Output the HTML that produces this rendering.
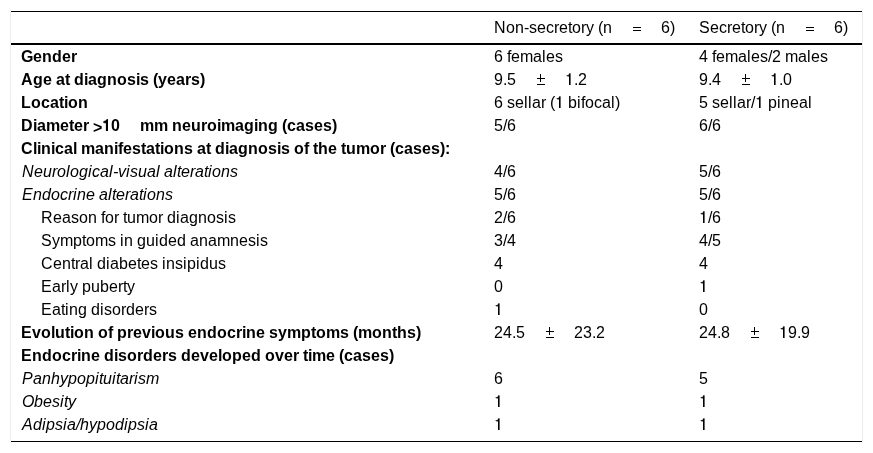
<!DOCTYPE html>
<html><head><meta charset="utf-8">
<style>
html,body{margin:0;padding:0;background:#fff;}
body{width:873px;height:453px;overflow:hidden;font-family:"Liberation Sans",sans-serif;font-size:16px;color:#000;position:relative;}
.box{position:absolute;left:0;top:0;width:873px;height:453px;will-change:transform;}
.vl{position:absolute;top:10px;width:1px;height:433px;background:#ececec;}
.wp{position:absolute;width:1px;height:1px;background:#fff;}
.hl{position:absolute;left:11px;width:851px;background:#000;}
.t{position:absolute;height:18px;line-height:18px;white-space:nowrap;}
.b{font-weight:bold;}
.i{font-style:italic;}
c{display:inline-block;overflow:visible;}
.sy{position:relative;height:18px;vertical-align:top;}
e{position:absolute;display:block;background:#000;}
e.px{left:-1px;top:1px;width:1px;height:1px;background:transparent;}
.a3{width:3px}.a4{width:4px}.a5{width:5px}.a6{width:6px}.a7{width:7px}.a8{width:8px}.a9{width:9px}.a10{width:10px}.a11{width:11px}.a12{width:12px}.a13{width:13px}.a14{width:14px}.a15{width:15px}.a16{width:16px}.a17{width:17px}.a18{width:18px}.a19{width:19px}.a20{width:20px}.a21{width:21px}.a22{width:22px}.a23{width:23px}.a24{width:24px}
</style></head><body>
<div class="box">
<div class="vl" style="left:10px"></div>
<div class="vl" style="left:862px"></div>
<div class="wp" style="left:10px;top:11px"></div><div class="wp" style="left:862px;top:11px"></div><div class="wp" style="left:10px;top:441px"></div><div class="wp" style="left:862px;top:441px"></div>
<div class="hl" style="top:11px;height:1px"></div>
<div class="hl" style="top:43px;height:2px"></div>
<div class="hl" style="top:441px;height:1px"></div>
<div class="t" style="left:494px;top:19px"><c class="a12">N</c><c class="a9">o</c><c class="a9">n</c><c class="a5">-</c><c class="a8">s</c><c class="a9">e</c><c class="a8">c</c><c class="a5">r</c><c class="a9">e</c><c class="a4">t</c><c class="a9">o</c><c class="a5">r</c><c class="a8">y</c><c class="a4">&nbsp;</c><c class="a5">(</c><c class="a9">n</c><c class="a20"></c><c class="a9 sy"><e style="left:1px;top:8px;width:8px;height:1px"></e><e style="left:1px;top:11px;width:8px;height:1px"></e></c><c class="a20"></c><c class="a9">6</c><c class="a5">)</c></div>
<div class="t" style="left:699px;top:19px"><c class="a11">S</c><c class="a9">e</c><c class="a8">c</c><c class="a5">r</c><c class="a9">e</c><c class="a4">t</c><c class="a9">o</c><c class="a5">r</c><c class="a8">y</c><c class="a4">&nbsp;</c><c class="a5">(</c><c class="a9">n</c><c class="a20"></c><c class="a9 sy"><e style="left:1px;top:8px;width:8px;height:1px"></e><e style="left:1px;top:11px;width:8px;height:1px"></e></c><c class="a20"></c><c class="a9">6</c><c class="a5">)</c></div>
<div class="t b" style="left:21px;top:48px"><c class="a12">G</c><c class="a9">e</c><c class="a10">n</c><c class="a10">d</c><c class="a9">e</c><c class="a6">r</c></div>
<div class="t" style="left:494px;top:48px"><c class="a9">6</c><c class="a4">&nbsp;</c><c class="a4">f</c><c class="a9">e</c><c class="a13">m</c><c class="a9">a</c><c class="a4">l</c><c class="a9">e</c><c class="a8">s</c></div>
<div class="t" style="left:699px;top:48px"><c class="a9">4</c><c class="a4">&nbsp;</c><c class="a4">f</c><c class="a9">e</c><c class="a13">m</c><c class="a9">a</c><c class="a4">l</c><c class="a9">e</c><c class="a8">s</c><c class="a4">/</c><c class="a9">2</c><c class="a4">&nbsp;</c><c class="a13">m</c><c class="a9">a</c><c class="a4">l</c><c class="a9">e</c><c class="a8">s</c></div>
<div class="t b" style="left:21px;top:71px"><c class="a12">A</c><c class="a10">g</c><c class="a9">e</c><c class="a4">&nbsp;</c><c class="a9">a</c><c class="a5">t</c><c class="a4">&nbsp;</c><c class="a10">d</c><c class="a4">i</c><c class="a9">a</c><c class="a10">g</c><c class="a10">n</c><c class="a10">o</c><c class="a9">s</c><c class="a4">i</c><c class="a9">s</c><c class="a4">&nbsp;</c><c class="a5">(</c><c class="a9">y</c><c class="a9">e</c><c class="a9">a</c><c class="a6">r</c><c class="a9">s</c><c class="a5">)</c></div>
<div class="t" style="left:494px;top:71px"><c class="a9">9</c><c class="a4">.</c><c class="a9">5</c><c class="a20"></c><c class="a9 sy"><e style="left:1px;top:7px;width:8px;height:1px"></e><e style="left:4px;top:3px;width:1px;height:8px"></e><e style="left:1px;top:13px;width:8px;height:1px"></e></c><c class="a20"></c><c class="a9 sy"><e class="px" style="box-shadow:5px 1px rgba(0,0,0,0.6),6px 1px rgba(0,0,0,0.4),4px 2px rgba(0,0,0,0.3),5px 2px rgba(0,0,0,1),6px 2px rgba(0,0,0,0.6),2px 3px rgba(0,0,0,0.3),3px 3px rgba(0,0,0,0.8),4px 3px rgba(0,0,0,0.9),5px 3px rgba(0,0,0,1),6px 3px rgba(0,0,0,0.6),3px 4px rgba(0,0,0,0.3),4px 4px rgba(0,0,0,0.4),5px 4px rgba(0,0,0,1),6px 4px rgba(0,0,0,0.6),5px 5px rgba(0,0,0,1),6px 5px rgba(0,0,0,0.6),5px 6px rgba(0,0,0,1),6px 6px rgba(0,0,0,0.6),5px 7px rgba(0,0,0,1),6px 7px rgba(0,0,0,0.6),5px 8px rgba(0,0,0,1),6px 8px rgba(0,0,0,0.6),5px 9px rgba(0,0,0,1),6px 9px rgba(0,0,0,0.6),5px 10px rgba(0,0,0,1),6px 10px rgba(0,0,0,0.6),5px 11px rgba(0,0,0,1),6px 11px rgba(0,0,0,0.6),5px 12px rgba(0,0,0,1),6px 12px rgba(0,0,0,0.6)"></e></c><c class="a4">.</c><c class="a9">2</c></div>
<div class="t" style="left:699px;top:71px"><c class="a9">9</c><c class="a4">.</c><c class="a9">4</c><c class="a20"></c><c class="a9 sy"><e style="left:1px;top:7px;width:8px;height:1px"></e><e style="left:4px;top:3px;width:1px;height:8px"></e><e style="left:1px;top:13px;width:8px;height:1px"></e></c><c class="a20"></c><c class="a9 sy"><e class="px" style="box-shadow:5px 1px rgba(0,0,0,0.6),6px 1px rgba(0,0,0,0.4),4px 2px rgba(0,0,0,0.3),5px 2px rgba(0,0,0,1),6px 2px rgba(0,0,0,0.6),2px 3px rgba(0,0,0,0.3),3px 3px rgba(0,0,0,0.8),4px 3px rgba(0,0,0,0.9),5px 3px rgba(0,0,0,1),6px 3px rgba(0,0,0,0.6),3px 4px rgba(0,0,0,0.3),4px 4px rgba(0,0,0,0.4),5px 4px rgba(0,0,0,1),6px 4px rgba(0,0,0,0.6),5px 5px rgba(0,0,0,1),6px 5px rgba(0,0,0,0.6),5px 6px rgba(0,0,0,1),6px 6px rgba(0,0,0,0.6),5px 7px rgba(0,0,0,1),6px 7px rgba(0,0,0,0.6),5px 8px rgba(0,0,0,1),6px 8px rgba(0,0,0,0.6),5px 9px rgba(0,0,0,1),6px 9px rgba(0,0,0,0.6),5px 10px rgba(0,0,0,1),6px 10px rgba(0,0,0,0.6),5px 11px rgba(0,0,0,1),6px 11px rgba(0,0,0,0.6),5px 12px rgba(0,0,0,1),6px 12px rgba(0,0,0,0.6)"></e></c><c class="a4">.</c><c class="a9">0</c></div>
<div class="t b" style="left:21px;top:94px"><c class="a10">L</c><c class="a10">o</c><c class="a9">c</c><c class="a9">a</c><c class="a5">t</c><c class="a4">i</c><c class="a10">o</c><c class="a10">n</c></div>
<div class="t" style="left:494px;top:94px"><c class="a9">6</c><c class="a4">&nbsp;</c><c class="a8">s</c><c class="a9">e</c><c class="a4">l</c><c class="a4">l</c><c class="a9">a</c><c class="a5">r</c><c class="a4">&nbsp;</c><c class="a5">(</c><c class="a9 sy"><e class="px" style="box-shadow:5px 1px rgba(0,0,0,0.6),6px 1px rgba(0,0,0,0.4),4px 2px rgba(0,0,0,0.3),5px 2px rgba(0,0,0,1),6px 2px rgba(0,0,0,0.6),2px 3px rgba(0,0,0,0.3),3px 3px rgba(0,0,0,0.8),4px 3px rgba(0,0,0,0.9),5px 3px rgba(0,0,0,1),6px 3px rgba(0,0,0,0.6),3px 4px rgba(0,0,0,0.3),4px 4px rgba(0,0,0,0.4),5px 4px rgba(0,0,0,1),6px 4px rgba(0,0,0,0.6),5px 5px rgba(0,0,0,1),6px 5px rgba(0,0,0,0.6),5px 6px rgba(0,0,0,1),6px 6px rgba(0,0,0,0.6),5px 7px rgba(0,0,0,1),6px 7px rgba(0,0,0,0.6),5px 8px rgba(0,0,0,1),6px 8px rgba(0,0,0,0.6),5px 9px rgba(0,0,0,1),6px 9px rgba(0,0,0,0.6),5px 10px rgba(0,0,0,1),6px 10px rgba(0,0,0,0.6),5px 11px rgba(0,0,0,1),6px 11px rgba(0,0,0,0.6),5px 12px rgba(0,0,0,1),6px 12px rgba(0,0,0,0.6)"></e></c><c class="a4">&nbsp;</c><c class="a9">b</c><c class="a4">i</c><c class="a4">f</c><c class="a9">o</c><c class="a8">c</c><c class="a9">a</c><c class="a4">l</c><c class="a5">)</c></div>
<div class="t" style="left:699px;top:94px"><c class="a9">5</c><c class="a4">&nbsp;</c><c class="a8">s</c><c class="a9">e</c><c class="a4">l</c><c class="a4">l</c><c class="a9">a</c><c class="a5">r</c><c class="a4">/</c><c class="a9 sy"><e class="px" style="box-shadow:5px 1px rgba(0,0,0,0.6),6px 1px rgba(0,0,0,0.4),4px 2px rgba(0,0,0,0.3),5px 2px rgba(0,0,0,1),6px 2px rgba(0,0,0,0.6),2px 3px rgba(0,0,0,0.3),3px 3px rgba(0,0,0,0.8),4px 3px rgba(0,0,0,0.9),5px 3px rgba(0,0,0,1),6px 3px rgba(0,0,0,0.6),3px 4px rgba(0,0,0,0.3),4px 4px rgba(0,0,0,0.4),5px 4px rgba(0,0,0,1),6px 4px rgba(0,0,0,0.6),5px 5px rgba(0,0,0,1),6px 5px rgba(0,0,0,0.6),5px 6px rgba(0,0,0,1),6px 6px rgba(0,0,0,0.6),5px 7px rgba(0,0,0,1),6px 7px rgba(0,0,0,0.6),5px 8px rgba(0,0,0,1),6px 8px rgba(0,0,0,0.6),5px 9px rgba(0,0,0,1),6px 9px rgba(0,0,0,0.6),5px 10px rgba(0,0,0,1),6px 10px rgba(0,0,0,0.6),5px 11px rgba(0,0,0,1),6px 11px rgba(0,0,0,0.6),5px 12px rgba(0,0,0,1),6px 12px rgba(0,0,0,0.6)"></e></c><c class="a4">&nbsp;</c><c class="a9">p</c><c class="a4">i</c><c class="a9">n</c><c class="a9">e</c><c class="a9">a</c><c class="a4">l</c></div>
<div class="t b" style="left:21px;top:117px"><c class="a12">D</c><c class="a4">i</c><c class="a9">a</c><c class="a14">m</c><c class="a9">e</c><c class="a5">t</c><c class="a9">e</c><c class="a6">r</c><c class="a4">&nbsp;</c><c class="a9" style="position:relative;top:2px">&gt;</c><c class="a9 sy"><e class="px" style="box-shadow:5px 1px rgba(0,0,0,0.5),6px 1px rgba(0,0,0,0.9),3px 2px rgba(0,0,0,0.2),4px 2px rgba(0,0,0,0.5),5px 2px rgba(0,0,0,1),6px 2px rgba(0,0,0,1),2px 3px rgba(0,0,0,0.5),3px 3px rgba(0,0,0,0.9),4px 3px rgba(0,0,0,1),5px 3px rgba(0,0,0,1),6px 3px rgba(0,0,0,1),2px 4px rgba(0,0,0,0.6),3px 4px rgba(0,0,0,0.9),4px 4px rgba(0,0,0,0.9),5px 4px rgba(0,0,0,1),6px 4px rgba(0,0,0,1),3px 5px rgba(0,0,0,0.2),4px 5px rgba(0,0,0,0.3),5px 5px rgba(0,0,0,1),6px 5px rgba(0,0,0,1),4px 6px rgba(0,0,0,0.1),5px 6px rgba(0,0,0,1),6px 6px rgba(0,0,0,1),4px 7px rgba(0,0,0,0.1),5px 7px rgba(0,0,0,1),6px 7px rgba(0,0,0,1),4px 8px rgba(0,0,0,0.1),5px 8px rgba(0,0,0,1),6px 8px rgba(0,0,0,1),4px 9px rgba(0,0,0,0.1),5px 9px rgba(0,0,0,1),6px 9px rgba(0,0,0,1),4px 10px rgba(0,0,0,0.1),5px 10px rgba(0,0,0,1),6px 10px rgba(0,0,0,1),4px 11px rgba(0,0,0,0.1),5px 11px rgba(0,0,0,1),6px 11px rgba(0,0,0,1),4px 12px rgba(0,0,0,0.1),5px 12px rgba(0,0,0,1),6px 12px rgba(0,0,0,1)"></e></c><c class="a9">0</c><c class="a20"></c><c class="a14">m</c><c class="a14">m</c><c class="a4">&nbsp;</c><c class="a10">n</c><c class="a9">e</c><c class="a10">u</c><c class="a6">r</c><c class="a10">o</c><c class="a4">i</c><c class="a14">m</c><c class="a9">a</c><c class="a10">g</c><c class="a4">i</c><c class="a10">n</c><c class="a10">g</c><c class="a4">&nbsp;</c><c class="a5">(</c><c class="a9">c</c><c class="a9">a</c><c class="a9">s</c><c class="a9">e</c><c class="a9">s</c><c class="a5">)</c></div>
<div class="t" style="left:494px;top:117px"><c class="a9">5</c><c class="a4">/</c><c class="a9">6</c></div>
<div class="t" style="left:699px;top:117px"><c class="a9">6</c><c class="a4">/</c><c class="a9">6</c></div>
<div class="t b" style="left:21px;top:140px"><c class="a12">C</c><c class="a4">l</c><c class="a4">i</c><c class="a10">n</c><c class="a4">i</c><c class="a9">c</c><c class="a9">a</c><c class="a4">l</c><c class="a4">&nbsp;</c><c class="a14">m</c><c class="a9">a</c><c class="a10">n</c><c class="a4">i</c><c class="a5">f</c><c class="a9">e</c><c class="a9">s</c><c class="a5">t</c><c class="a9">a</c><c class="a5">t</c><c class="a4">i</c><c class="a10">o</c><c class="a10">n</c><c class="a9">s</c><c class="a4">&nbsp;</c><c class="a9">a</c><c class="a5">t</c><c class="a4">&nbsp;</c><c class="a10">d</c><c class="a4">i</c><c class="a9">a</c><c class="a10">g</c><c class="a10">n</c><c class="a10">o</c><c class="a9">s</c><c class="a4">i</c><c class="a9">s</c><c class="a4">&nbsp;</c><c class="a10">o</c><c class="a5">f</c><c class="a4">&nbsp;</c><c class="a5">t</c><c class="a10">h</c><c class="a9">e</c><c class="a4">&nbsp;</c><c class="a5">t</c><c class="a10">u</c><c class="a14">m</c><c class="a10">o</c><c class="a6">r</c><c class="a4">&nbsp;</c><c class="a5">(</c><c class="a9">c</c><c class="a9">a</c><c class="a9">s</c><c class="a9">e</c><c class="a9">s</c><c class="a5">)</c><c class="a5">:</c></div>
<div class="t i" style="left:22px;top:163px"><c class="a12">N</c><c class="a9">e</c><c class="a9">u</c><c class="a5">r</c><c class="a9">o</c><c class="a4">l</c><c class="a9">o</c><c class="a9">g</c><c class="a4">i</c><c class="a8">c</c><c class="a9">a</c><c class="a4">l</c><c class="a5">-</c><c class="a8">v</c><c class="a4">i</c><c class="a8">s</c><c class="a9">u</c><c class="a9">a</c><c class="a4">l</c><c class="a4">&nbsp;</c><c class="a9">a</c><c class="a4">l</c><c class="a4">t</c><c class="a9">e</c><c class="a5">r</c><c class="a9">a</c><c class="a4">t</c><c class="a4">i</c><c class="a9">o</c><c class="a9">n</c><c class="a8">s</c></div>
<div class="t" style="left:494px;top:163px"><c class="a9">4</c><c class="a4">/</c><c class="a9">6</c></div>
<div class="t" style="left:699px;top:163px"><c class="a9">5</c><c class="a4">/</c><c class="a9">6</c></div>
<div class="t i" style="left:22px;top:186px"><c class="a11">E</c><c class="a9">n</c><c class="a9">d</c><c class="a9">o</c><c class="a8">c</c><c class="a5">r</c><c class="a4">i</c><c class="a9">n</c><c class="a9">e</c><c class="a4">&nbsp;</c><c class="a9">a</c><c class="a4">l</c><c class="a4">t</c><c class="a9">e</c><c class="a5">r</c><c class="a9">a</c><c class="a4">t</c><c class="a4">i</c><c class="a9">o</c><c class="a9">n</c><c class="a8">s</c></div>
<div class="t" style="left:494px;top:186px"><c class="a9">5</c><c class="a4">/</c><c class="a9">6</c></div>
<div class="t" style="left:699px;top:186px"><c class="a9">5</c><c class="a4">/</c><c class="a9">6</c></div>
<div class="t" style="left:41px;top:209px"><c class="a12">R</c><c class="a9">e</c><c class="a9">a</c><c class="a8">s</c><c class="a9">o</c><c class="a9">n</c><c class="a4">&nbsp;</c><c class="a4">f</c><c class="a9">o</c><c class="a5">r</c><c class="a4">&nbsp;</c><c class="a4">t</c><c class="a9">u</c><c class="a13">m</c><c class="a9">o</c><c class="a5">r</c><c class="a4">&nbsp;</c><c class="a9">d</c><c class="a4">i</c><c class="a9">a</c><c class="a9">g</c><c class="a9">n</c><c class="a9">o</c><c class="a8">s</c><c class="a4">i</c><c class="a8">s</c></div>
<div class="t" style="left:494px;top:209px"><c class="a9">2</c><c class="a4">/</c><c class="a9">6</c></div>
<div class="t" style="left:699px;top:209px"><c class="a9 sy"><e class="px" style="box-shadow:5px 1px rgba(0,0,0,0.6),6px 1px rgba(0,0,0,0.4),4px 2px rgba(0,0,0,0.3),5px 2px rgba(0,0,0,1),6px 2px rgba(0,0,0,0.6),2px 3px rgba(0,0,0,0.3),3px 3px rgba(0,0,0,0.8),4px 3px rgba(0,0,0,0.9),5px 3px rgba(0,0,0,1),6px 3px rgba(0,0,0,0.6),3px 4px rgba(0,0,0,0.3),4px 4px rgba(0,0,0,0.4),5px 4px rgba(0,0,0,1),6px 4px rgba(0,0,0,0.6),5px 5px rgba(0,0,0,1),6px 5px rgba(0,0,0,0.6),5px 6px rgba(0,0,0,1),6px 6px rgba(0,0,0,0.6),5px 7px rgba(0,0,0,1),6px 7px rgba(0,0,0,0.6),5px 8px rgba(0,0,0,1),6px 8px rgba(0,0,0,0.6),5px 9px rgba(0,0,0,1),6px 9px rgba(0,0,0,0.6),5px 10px rgba(0,0,0,1),6px 10px rgba(0,0,0,0.6),5px 11px rgba(0,0,0,1),6px 11px rgba(0,0,0,0.6),5px 12px rgba(0,0,0,1),6px 12px rgba(0,0,0,0.6)"></e></c><c class="a4">/</c><c class="a9">6</c></div>
<div class="t" style="left:41px;top:232px"><c class="a11">S</c><c class="a8">y</c><c class="a13">m</c><c class="a9">p</c><c class="a4">t</c><c class="a9">o</c><c class="a13">m</c><c class="a8">s</c><c class="a4">&nbsp;</c><c class="a4">i</c><c class="a9">n</c><c class="a4">&nbsp;</c><c class="a9">g</c><c class="a9">u</c><c class="a4">i</c><c class="a9">d</c><c class="a9">e</c><c class="a9">d</c><c class="a4">&nbsp;</c><c class="a9">a</c><c class="a9">n</c><c class="a9">a</c><c class="a13">m</c><c class="a9">n</c><c class="a9">e</c><c class="a8">s</c><c class="a4">i</c><c class="a8">s</c></div>
<div class="t" style="left:494px;top:232px"><c class="a9">3</c><c class="a4">/</c><c class="a9">4</c></div>
<div class="t" style="left:699px;top:232px"><c class="a9">4</c><c class="a4">/</c><c class="a9">5</c></div>
<div class="t" style="left:41px;top:255px"><c class="a12">C</c><c class="a9">e</c><c class="a9">n</c><c class="a4">t</c><c class="a5">r</c><c class="a9">a</c><c class="a4">l</c><c class="a4">&nbsp;</c><c class="a9">d</c><c class="a4">i</c><c class="a9">a</c><c class="a9">b</c><c class="a9">e</c><c class="a4">t</c><c class="a9">e</c><c class="a8">s</c><c class="a4">&nbsp;</c><c class="a4">i</c><c class="a9">n</c><c class="a8">s</c><c class="a4">i</c><c class="a9">p</c><c class="a4">i</c><c class="a9">d</c><c class="a9">u</c><c class="a8">s</c></div>
<div class="t" style="left:494px;top:255px"><c class="a9">4</c></div>
<div class="t" style="left:699px;top:255px"><c class="a9">4</c></div>
<div class="t" style="left:41px;top:278px"><c class="a11">E</c><c class="a9">a</c><c class="a5">r</c><c class="a4">l</c><c class="a8">y</c><c class="a4">&nbsp;</c><c class="a9">p</c><c class="a9">u</c><c class="a9">b</c><c class="a9">e</c><c class="a5">r</c><c class="a4">t</c><c class="a8">y</c></div>
<div class="t" style="left:494px;top:278px"><c class="a9">0</c></div>
<div class="t" style="left:699px;top:278px"><c class="a9 sy"><e class="px" style="box-shadow:5px 1px rgba(0,0,0,0.6),6px 1px rgba(0,0,0,0.4),4px 2px rgba(0,0,0,0.3),5px 2px rgba(0,0,0,1),6px 2px rgba(0,0,0,0.6),2px 3px rgba(0,0,0,0.3),3px 3px rgba(0,0,0,0.8),4px 3px rgba(0,0,0,0.9),5px 3px rgba(0,0,0,1),6px 3px rgba(0,0,0,0.6),3px 4px rgba(0,0,0,0.3),4px 4px rgba(0,0,0,0.4),5px 4px rgba(0,0,0,1),6px 4px rgba(0,0,0,0.6),5px 5px rgba(0,0,0,1),6px 5px rgba(0,0,0,0.6),5px 6px rgba(0,0,0,1),6px 6px rgba(0,0,0,0.6),5px 7px rgba(0,0,0,1),6px 7px rgba(0,0,0,0.6),5px 8px rgba(0,0,0,1),6px 8px rgba(0,0,0,0.6),5px 9px rgba(0,0,0,1),6px 9px rgba(0,0,0,0.6),5px 10px rgba(0,0,0,1),6px 10px rgba(0,0,0,0.6),5px 11px rgba(0,0,0,1),6px 11px rgba(0,0,0,0.6),5px 12px rgba(0,0,0,1),6px 12px rgba(0,0,0,0.6)"></e></c></div>
<div class="t" style="left:41px;top:301px"><c class="a11">E</c><c class="a9">a</c><c class="a4">t</c><c class="a4">i</c><c class="a9">n</c><c class="a9">g</c><c class="a4">&nbsp;</c><c class="a9">d</c><c class="a4">i</c><c class="a8">s</c><c class="a9">o</c><c class="a5">r</c><c class="a9">d</c><c class="a9">e</c><c class="a5">r</c><c class="a8">s</c></div>
<div class="t" style="left:494px;top:301px"><c class="a9 sy"><e class="px" style="box-shadow:5px 1px rgba(0,0,0,0.6),6px 1px rgba(0,0,0,0.4),4px 2px rgba(0,0,0,0.3),5px 2px rgba(0,0,0,1),6px 2px rgba(0,0,0,0.6),2px 3px rgba(0,0,0,0.3),3px 3px rgba(0,0,0,0.8),4px 3px rgba(0,0,0,0.9),5px 3px rgba(0,0,0,1),6px 3px rgba(0,0,0,0.6),3px 4px rgba(0,0,0,0.3),4px 4px rgba(0,0,0,0.4),5px 4px rgba(0,0,0,1),6px 4px rgba(0,0,0,0.6),5px 5px rgba(0,0,0,1),6px 5px rgba(0,0,0,0.6),5px 6px rgba(0,0,0,1),6px 6px rgba(0,0,0,0.6),5px 7px rgba(0,0,0,1),6px 7px rgba(0,0,0,0.6),5px 8px rgba(0,0,0,1),6px 8px rgba(0,0,0,0.6),5px 9px rgba(0,0,0,1),6px 9px rgba(0,0,0,0.6),5px 10px rgba(0,0,0,1),6px 10px rgba(0,0,0,0.6),5px 11px rgba(0,0,0,1),6px 11px rgba(0,0,0,0.6),5px 12px rgba(0,0,0,1),6px 12px rgba(0,0,0,0.6)"></e></c></div>
<div class="t" style="left:699px;top:301px"><c class="a9">0</c></div>
<div class="t b" style="left:21px;top:324px"><c class="a11">E</c><c class="a9">v</c><c class="a10">o</c><c class="a4">l</c><c class="a10">u</c><c class="a5">t</c><c class="a4">i</c><c class="a10">o</c><c class="a10">n</c><c class="a4">&nbsp;</c><c class="a10">o</c><c class="a5">f</c><c class="a4">&nbsp;</c><c class="a10">p</c><c class="a6">r</c><c class="a9">e</c><c class="a9">v</c><c class="a4">i</c><c class="a10">o</c><c class="a10">u</c><c class="a9">s</c><c class="a4">&nbsp;</c><c class="a9">e</c><c class="a10">n</c><c class="a10">d</c><c class="a10">o</c><c class="a9">c</c><c class="a6">r</c><c class="a4">i</c><c class="a10">n</c><c class="a9">e</c><c class="a4">&nbsp;</c><c class="a9">s</c><c class="a9">y</c><c class="a14">m</c><c class="a10">p</c><c class="a5">t</c><c class="a10">o</c><c class="a14">m</c><c class="a9">s</c><c class="a4">&nbsp;</c><c class="a5">(</c><c class="a14">m</c><c class="a10">o</c><c class="a10">n</c><c class="a5">t</c><c class="a10">h</c><c class="a9">s</c><c class="a5">)</c></div>
<div class="t" style="left:494px;top:324px"><c class="a9">2</c><c class="a9">4</c><c class="a4">.</c><c class="a9">5</c><c class="a20"></c><c class="a9 sy"><e style="left:1px;top:7px;width:8px;height:1px"></e><e style="left:4px;top:3px;width:1px;height:8px"></e><e style="left:1px;top:13px;width:8px;height:1px"></e></c><c class="a20"></c><c class="a9">2</c><c class="a9">3</c><c class="a4">.</c><c class="a9">2</c></div>
<div class="t" style="left:699px;top:324px"><c class="a9">2</c><c class="a9">4</c><c class="a4">.</c><c class="a9">8</c><c class="a20"></c><c class="a9 sy"><e style="left:1px;top:7px;width:8px;height:1px"></e><e style="left:4px;top:3px;width:1px;height:8px"></e><e style="left:1px;top:13px;width:8px;height:1px"></e></c><c class="a20"></c><c class="a9 sy"><e class="px" style="box-shadow:5px 1px rgba(0,0,0,0.6),6px 1px rgba(0,0,0,0.4),4px 2px rgba(0,0,0,0.3),5px 2px rgba(0,0,0,1),6px 2px rgba(0,0,0,0.6),2px 3px rgba(0,0,0,0.3),3px 3px rgba(0,0,0,0.8),4px 3px rgba(0,0,0,0.9),5px 3px rgba(0,0,0,1),6px 3px rgba(0,0,0,0.6),3px 4px rgba(0,0,0,0.3),4px 4px rgba(0,0,0,0.4),5px 4px rgba(0,0,0,1),6px 4px rgba(0,0,0,0.6),5px 5px rgba(0,0,0,1),6px 5px rgba(0,0,0,0.6),5px 6px rgba(0,0,0,1),6px 6px rgba(0,0,0,0.6),5px 7px rgba(0,0,0,1),6px 7px rgba(0,0,0,0.6),5px 8px rgba(0,0,0,1),6px 8px rgba(0,0,0,0.6),5px 9px rgba(0,0,0,1),6px 9px rgba(0,0,0,0.6),5px 10px rgba(0,0,0,1),6px 10px rgba(0,0,0,0.6),5px 11px rgba(0,0,0,1),6px 11px rgba(0,0,0,0.6),5px 12px rgba(0,0,0,1),6px 12px rgba(0,0,0,0.6)"></e></c><c class="a9">9</c><c class="a4">.</c><c class="a9">9</c></div>
<div class="t b" style="left:21px;top:347px"><c class="a11">E</c><c class="a10">n</c><c class="a10">d</c><c class="a10">o</c><c class="a9">c</c><c class="a6">r</c><c class="a4">i</c><c class="a10">n</c><c class="a9">e</c><c class="a4">&nbsp;</c><c class="a10">d</c><c class="a4">i</c><c class="a9">s</c><c class="a10">o</c><c class="a6">r</c><c class="a10">d</c><c class="a9">e</c><c class="a6">r</c><c class="a9">s</c><c class="a4">&nbsp;</c><c class="a10">d</c><c class="a9">e</c><c class="a9">v</c><c class="a9">e</c><c class="a4">l</c><c class="a10">o</c><c class="a10">p</c><c class="a9">e</c><c class="a10">d</c><c class="a4">&nbsp;</c><c class="a10">o</c><c class="a9">v</c><c class="a9">e</c><c class="a6">r</c><c class="a4">&nbsp;</c><c class="a5">t</c><c class="a4">i</c><c class="a14">m</c><c class="a9">e</c><c class="a4">&nbsp;</c><c class="a5">(</c><c class="a9">c</c><c class="a9">a</c><c class="a9">s</c><c class="a9">e</c><c class="a9">s</c><c class="a5">)</c></div>
<div class="t i" style="left:22px;top:370px"><c class="a11">P</c><c class="a9">a</c><c class="a9">n</c><c class="a9">h</c><c class="a8">y</c><c class="a9">p</c><c class="a9">o</c><c class="a9">p</c><c class="a4">i</c><c class="a4">t</c><c class="a9">u</c><c class="a4">i</c><c class="a4">t</c><c class="a9">a</c><c class="a5">r</c><c class="a4">i</c><c class="a8">s</c><c class="a13">m</c></div>
<div class="t" style="left:494px;top:370px"><c class="a9">6</c></div>
<div class="t" style="left:699px;top:370px"><c class="a9">5</c></div>
<div class="t i" style="left:22px;top:393px"><c class="a12">O</c><c class="a9">b</c><c class="a9">e</c><c class="a8">s</c><c class="a4">i</c><c class="a4">t</c><c class="a8">y</c></div>
<div class="t" style="left:494px;top:393px"><c class="a9 sy"><e class="px" style="box-shadow:5px 1px rgba(0,0,0,0.6),6px 1px rgba(0,0,0,0.4),4px 2px rgba(0,0,0,0.3),5px 2px rgba(0,0,0,1),6px 2px rgba(0,0,0,0.6),2px 3px rgba(0,0,0,0.3),3px 3px rgba(0,0,0,0.8),4px 3px rgba(0,0,0,0.9),5px 3px rgba(0,0,0,1),6px 3px rgba(0,0,0,0.6),3px 4px rgba(0,0,0,0.3),4px 4px rgba(0,0,0,0.4),5px 4px rgba(0,0,0,1),6px 4px rgba(0,0,0,0.6),5px 5px rgba(0,0,0,1),6px 5px rgba(0,0,0,0.6),5px 6px rgba(0,0,0,1),6px 6px rgba(0,0,0,0.6),5px 7px rgba(0,0,0,1),6px 7px rgba(0,0,0,0.6),5px 8px rgba(0,0,0,1),6px 8px rgba(0,0,0,0.6),5px 9px rgba(0,0,0,1),6px 9px rgba(0,0,0,0.6),5px 10px rgba(0,0,0,1),6px 10px rgba(0,0,0,0.6),5px 11px rgba(0,0,0,1),6px 11px rgba(0,0,0,0.6),5px 12px rgba(0,0,0,1),6px 12px rgba(0,0,0,0.6)"></e></c></div>
<div class="t" style="left:699px;top:393px"><c class="a9 sy"><e class="px" style="box-shadow:5px 1px rgba(0,0,0,0.6),6px 1px rgba(0,0,0,0.4),4px 2px rgba(0,0,0,0.3),5px 2px rgba(0,0,0,1),6px 2px rgba(0,0,0,0.6),2px 3px rgba(0,0,0,0.3),3px 3px rgba(0,0,0,0.8),4px 3px rgba(0,0,0,0.9),5px 3px rgba(0,0,0,1),6px 3px rgba(0,0,0,0.6),3px 4px rgba(0,0,0,0.3),4px 4px rgba(0,0,0,0.4),5px 4px rgba(0,0,0,1),6px 4px rgba(0,0,0,0.6),5px 5px rgba(0,0,0,1),6px 5px rgba(0,0,0,0.6),5px 6px rgba(0,0,0,1),6px 6px rgba(0,0,0,0.6),5px 7px rgba(0,0,0,1),6px 7px rgba(0,0,0,0.6),5px 8px rgba(0,0,0,1),6px 8px rgba(0,0,0,0.6),5px 9px rgba(0,0,0,1),6px 9px rgba(0,0,0,0.6),5px 10px rgba(0,0,0,1),6px 10px rgba(0,0,0,0.6),5px 11px rgba(0,0,0,1),6px 11px rgba(0,0,0,0.6),5px 12px rgba(0,0,0,1),6px 12px rgba(0,0,0,0.6)"></e></c></div>
<div class="t i" style="left:22px;top:416px"><c class="a11">A</c><c class="a9">d</c><c class="a4">i</c><c class="a9">p</c><c class="a8">s</c><c class="a4">i</c><c class="a9">a</c><c class="a4">/</c><c class="a9">h</c><c class="a8">y</c><c class="a9">p</c><c class="a9">o</c><c class="a9">d</c><c class="a4">i</c><c class="a9">p</c><c class="a8">s</c><c class="a4">i</c><c class="a9">a</c></div>
<div class="t" style="left:494px;top:416px"><c class="a9 sy"><e class="px" style="box-shadow:5px 1px rgba(0,0,0,0.6),6px 1px rgba(0,0,0,0.4),4px 2px rgba(0,0,0,0.3),5px 2px rgba(0,0,0,1),6px 2px rgba(0,0,0,0.6),2px 3px rgba(0,0,0,0.3),3px 3px rgba(0,0,0,0.8),4px 3px rgba(0,0,0,0.9),5px 3px rgba(0,0,0,1),6px 3px rgba(0,0,0,0.6),3px 4px rgba(0,0,0,0.3),4px 4px rgba(0,0,0,0.4),5px 4px rgba(0,0,0,1),6px 4px rgba(0,0,0,0.6),5px 5px rgba(0,0,0,1),6px 5px rgba(0,0,0,0.6),5px 6px rgba(0,0,0,1),6px 6px rgba(0,0,0,0.6),5px 7px rgba(0,0,0,1),6px 7px rgba(0,0,0,0.6),5px 8px rgba(0,0,0,1),6px 8px rgba(0,0,0,0.6),5px 9px rgba(0,0,0,1),6px 9px rgba(0,0,0,0.6),5px 10px rgba(0,0,0,1),6px 10px rgba(0,0,0,0.6),5px 11px rgba(0,0,0,1),6px 11px rgba(0,0,0,0.6),5px 12px rgba(0,0,0,1),6px 12px rgba(0,0,0,0.6)"></e></c></div>
<div class="t" style="left:699px;top:416px"><c class="a9 sy"><e class="px" style="box-shadow:5px 1px rgba(0,0,0,0.6),6px 1px rgba(0,0,0,0.4),4px 2px rgba(0,0,0,0.3),5px 2px rgba(0,0,0,1),6px 2px rgba(0,0,0,0.6),2px 3px rgba(0,0,0,0.3),3px 3px rgba(0,0,0,0.8),4px 3px rgba(0,0,0,0.9),5px 3px rgba(0,0,0,1),6px 3px rgba(0,0,0,0.6),3px 4px rgba(0,0,0,0.3),4px 4px rgba(0,0,0,0.4),5px 4px rgba(0,0,0,1),6px 4px rgba(0,0,0,0.6),5px 5px rgba(0,0,0,1),6px 5px rgba(0,0,0,0.6),5px 6px rgba(0,0,0,1),6px 6px rgba(0,0,0,0.6),5px 7px rgba(0,0,0,1),6px 7px rgba(0,0,0,0.6),5px 8px rgba(0,0,0,1),6px 8px rgba(0,0,0,0.6),5px 9px rgba(0,0,0,1),6px 9px rgba(0,0,0,0.6),5px 10px rgba(0,0,0,1),6px 10px rgba(0,0,0,0.6),5px 11px rgba(0,0,0,1),6px 11px rgba(0,0,0,0.6),5px 12px rgba(0,0,0,1),6px 12px rgba(0,0,0,0.6)"></e></c></div>
</div>
</body></html>
